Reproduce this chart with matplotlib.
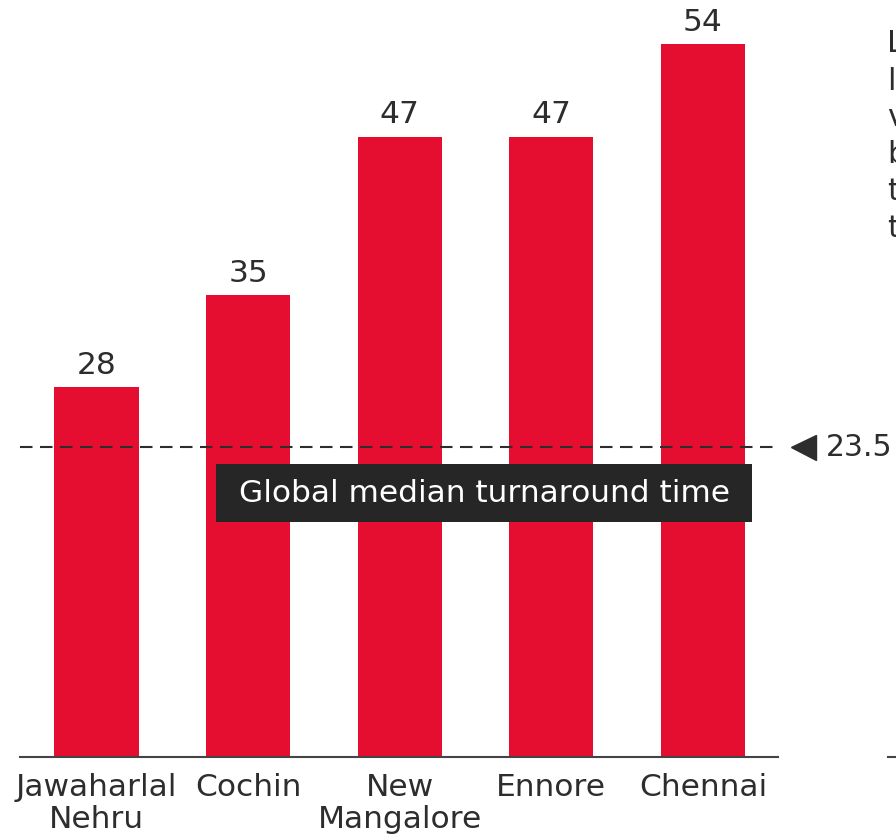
import matplotlib
matplotlib.use('Agg')
import matplotlib.pyplot as plt
from matplotlib.patches import Rectangle

ports = ['Jawaharlal\nNehru', 'Cochin', 'New\nMangalore', 'Ennore', 'Chennai']
turnaround = [28, 35, 47, 47, 54]
global_median = 23.5
median_label = 'Global median turnaround time'
cut_letters = ['L', 'l', 'v', 'b', 't', 't']

plt.rcParams['font.family'] = ['DejaVu Sans']
RED = '#e60e30'
DARK = '#2d2d2d'

fig = plt.figure(figsize=(8.96, 8.37), dpi=100)
ax = fig.add_axes([20/896, 79/837, 758/896, 758/837])

x = list(range(len(ports)))
ax.bar(x, turnaround, width=0.555, color=RED)
for xi, v in zip(x, turnaround):
    ax.annotate(str(v), (xi, v), xytext=(0, 6), textcoords='offset points',
                ha='center', va='bottom', fontsize=22.5, color=DARK)

ax.set_xlim(-0.505, 4.495)
ax.set_ylim(0, 57.42)

# median reference line
ax.axhline(global_median, color=DARK, lw=1.5, dashes=(6, 3.6))
ax.plot([4.66], [global_median], marker='<', markersize=18, color=DARK, clip_on=False)
ax.text(4.81, global_median, str(global_median), ha='left', va='center',
        fontsize=21.5, color=DARK, clip_on=False)
ax.add_patch(Rectangle((0.788, 17.8), 3.536, 4.4, fc='#262626', ec='none', zorder=3))
ax.text(2.556, 20.0, median_label, ha='center', va='center', fontsize=22.5,
        color='white', zorder=4)

ax.set_xticks(x)
ax.set_xticklabels(ports, fontsize=22.5, color=DARK, linespacing=1.12)
ax.tick_params(axis='x', length=0, pad=11)
ax.set_yticks([])
for s in ['top', 'right', 'left']:
    ax.spines[s].set_visible(False)
ax.spines['bottom'].set_color('#444444')
ax.spines['bottom'].set_linewidth(1.5)

# cut-off text and axis of the neighbouring panel
for i, ch in enumerate(cut_letters):
    fig.text(887/896, 1 - (44 + 37*i)/837, ch, ha='left', va='center',
             fontsize=22, color=DARK)
fig.add_artist(plt.Line2D([888/896, 1], [79/837, 79/837], color='#444444', lw=1.5))

fig.savefig('out.png', dpi=100)
